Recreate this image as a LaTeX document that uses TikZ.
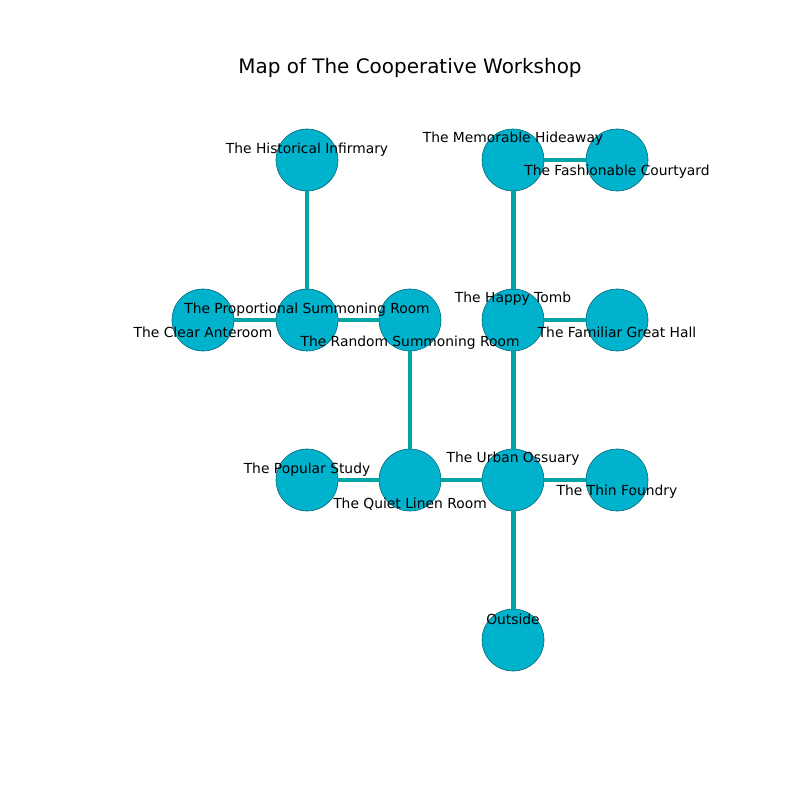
\documentclass[tikz,border=0pt]{standalone}
\usepackage{fontspec}
\setmainfont{DejaVu Sans}
\definecolor{roomfill}{HTML}{00B2CC}
\definecolor{passage}{HTML}{00A6A6}
\tikzset{
    room/.style={circle, fill=roomfill, draw=black!45!roomfill, line width=0.4pt, minimum size=0.62in, inner sep=0pt},
    lbl/.style={font=\fontsize{10}{12}\selectfont, inner sep=0pt, yshift=-1.4pt},
    link/.style={passage, line width=3.6pt}
}
\begin{document}
\begin{tikzpicture}[x=0.01in, y=-0.01in]
    \useasboundingbox (0,0) rectangle (800,800);

    % Title
    \node[font=\fontsize{14.4}{17}\selectfont] (title) at (410,68) {Map of The Cooperative Workshop};

    % Rooms
    \node[room] (hist) at (307,160) {};
    \node[room] (memo) at (513,160) {};
    \node[room] (fash) at (617,160) {};
    \node[room] (clear) at (203,320) {};
    \node[room] (prop) at (307,320) {};
    \node[room] (rand) at (410,320) {};
    \node[room] (happy) at (513,320) {};
    \node[room] (fam) at (617,320) {};
    \node[room] (pop) at (307,480) {};
    \node[room] (quiet) at (410,480) {};
    \node[room] (urban) at (513,480) {};
    \node[room] (thin) at (617,480) {};
    \node[room] (out) at (513,640) {};

    % Passages
    \draw[link] (hist) -- (prop);
    \draw[link] (clear) -- (prop);
    \draw[link] (prop) -- (rand);
    \draw[link] (rand) -- (quiet);
    \draw[link] (pop) -- (quiet);
    \draw[link] (quiet) -- (urban);
    \draw[link] (urban) -- (thin);
    \draw[link] (urban) -- (out);
    \draw[link] (urban) -- (happy);
    \draw[link] (happy) -- (fam);
    \draw[link] (happy) -- (memo);
    \draw[link] (memo) -- (fash);

    % Labels
    \node[lbl] (hist-l) at (307,148) {The Historical Infirmary};
    \node[lbl] (memo-l) at (513,137) {The Memorable Hideaway};
    \node[lbl] (fash-l) at (617,170) {The Fashionable Courtyard};
    \node[lbl] (prop-l) at (307,308) {The Proportional Summoning Room};
    \node[lbl] (clear-l) at (203,330) {The Clear Anteroom};
    \node[lbl] (rand-l) at (410,341) {The Random Summoning Room};
    \node[lbl] (happy-l) at (513,297) {The Happy Tomb};
    \node[lbl] (fam-l) at (617,330) {The Familiar Great Hall};
    \node[lbl] (pop-l) at (307,468) {The Popular Study};
    \node[lbl] (quiet-l) at (410,502) {The Quiet Linen Room};
    \node[lbl] (urban-l) at (513,457) {The Urban Ossuary};
    \node[lbl] (thin-l) at (617,490) {The Thin Foundry};
    \node[lbl] (out-l) at (513,617) {Outside};
\end{tikzpicture}
\end{document}
